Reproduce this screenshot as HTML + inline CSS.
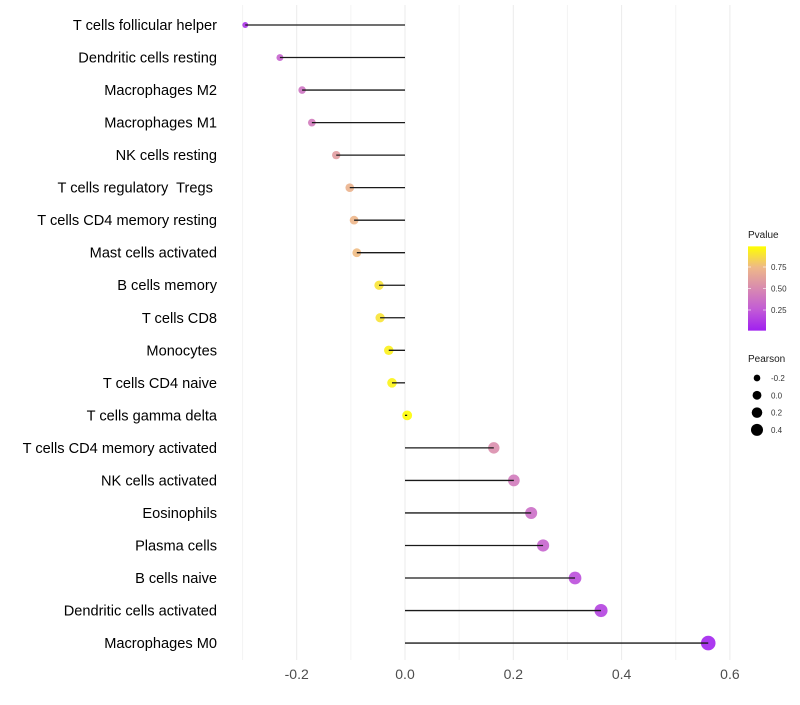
<!DOCTYPE html>
<html><head><meta charset="utf-8"><style>
body{margin:0;background:#fff;font-family:"Liberation Sans",sans-serif}
text{white-space:pre}
</style></head><body>
<svg id="c" width="800" height="700" xmlns="http://www.w3.org/2000/svg">
<defs><linearGradient id="g" x1="0" y1="1" x2="0" y2="0">
<stop offset="0" stop-color="#a020f0"/><stop offset="0.25" stop-color="#c25bd6"/><stop offset="0.5" stop-color="#d88ab0"/><stop offset="0.75" stop-color="#eeb888"/><stop offset="1" stop-color="#ffff00"/></linearGradient></defs>
</svg>
<script>
const categories=["T cells follicular helper","Dendritic cells resting","Macrophages M2","Macrophages M1","NK cells resting","T cells regulatory  Tregs ","T cells CD4 memory resting","Mast cells activated","B cells memory","T cells CD8","Monocytes","T cells CD4 naive","T cells gamma delta","T cells CD4 memory activated","NK cells activated","Eosinophils","Plasma cells","B cells naive","Dendritic cells activated","Macrophages M0"];
const pearson=[-0.295,-0.231,-0.19,-0.172,-0.127,-0.102,-0.094,-0.089,-0.048,-0.046,-0.030,-0.024,0.004,0.164,0.201,0.233,0.255,0.314,0.362,0.560];
const pvalue=[0.08,0.3,0.38,0.42,0.6,0.72,0.74,0.76,0.9,0.9,0.95,0.96,0.99,0.52,0.42,0.35,0.3,0.2,0.15,0.02];
const xTicks=[-0.2,0,0.2,0.4,0.6];
const xMinor=[-0.3,-0.1,0.1,0.3,0.5];
const pTicks=[0.25,0.5,0.75];
const sizeLegend=[-0.2,0,0.2,0.4];

const svg=document.getElementById('c');const NS="http://www.w3.org/2000/svg";
const X=v=>405+v*541.5, Y=i=>25+i*32.53, R=v=>Math.sqrt(Math.max(3,24+52*v));
const stops=[[0,[160,32,240]],[0.25,[194,91,214]],[0.5,[216,138,176]],[0.75,[238,184,136]],[1,[255,255,0]]];
function col(p){for(let k=1;k<stops.length;k++){if(p<=stops[k][0]){const a=stops[k-1],b=stops[k],t=(p-a[0])/(b[0]-a[0]);return 'rgb('+a[1].map((c,j)=>Math.round(c+(b[1][j]-c)*t)).join(',')+')';}}return 'rgb(255,255,0)';}
function el(t,a,txt){const e=document.createElementNS(NS,t);for(const k in a)e.setAttribute(k,a[k]);if(txt!==undefined)e.textContent=txt;svg.appendChild(e);return e;}
xMinor.forEach(v=>{const e=el('line',{x1:X(v),x2:X(v),y1:5,y2:660,stroke:'#f4f4f4','stroke-width':1});

});
xTicks.forEach(v=>{const e=el('line',{x1:X(v),x2:X(v),y1:5,y2:660,stroke:'#ebebeb','stroke-width':1});


const t=el('text',{x:X(v),y:679,'text-anchor':'middle','font-size':14,fill:'#4d4d4d'},v===0?'0.0':v.toFixed(1));

});
categories.forEach((c,i)=>{
const t=el('text',{x:217,y:Y(i)+5,'text-anchor':'end','font-size':14.6,fill:'#000'},c);


const d=el('circle',{cx:X(pearson[i]),cy:Y(i),r:R(pearson[i]),fill:col(pvalue[i]),'fill-opacity':0.9});


const l=el('line',{x1:X(0),x2:X(pearson[i]),y1:Y(i),y2:Y(i),stroke:'#1a1a1a','stroke-width':1.3});


});
let t=el('text',{x:748,y:238,'font-size':10,fill:'#1a1a1a'},'Pvalue');


const PY=p=>331.5-p*86;
let r=el('rect',{x:748,y:PY(0.99),width:18,height:PY(0.01)-PY(0.99),fill:'url(#g)'});


pTicks.forEach(p=>{const l=el('line',{x1:748,x2:751,y1:PY(p),y2:PY(p),stroke:'#fff','stroke-opacity':0.6});


const l2=el('line',{x1:763,x2:766,y1:PY(p),y2:PY(p),stroke:'#fff','stroke-opacity':0.6});


const tt=el('text',{x:771,y:PY(p)+3,'font-size':8,fill:'#333'},p.toFixed(2));

});
t=el('text',{x:748,y:362,'font-size':10,fill:'#1a1a1a'},'Pearson');


sizeLegend.forEach((v,k)=>{const y=378+k*17.3;
const c=el('circle',{cx:757,cy:y,r:R(v)*0.9,fill:'#000'});


const tt=el('text',{x:771,y:y+3,'font-size':8,fill:'#333'},v===0?'0.0':v.toFixed(1));

});
</script>
</body></html>
